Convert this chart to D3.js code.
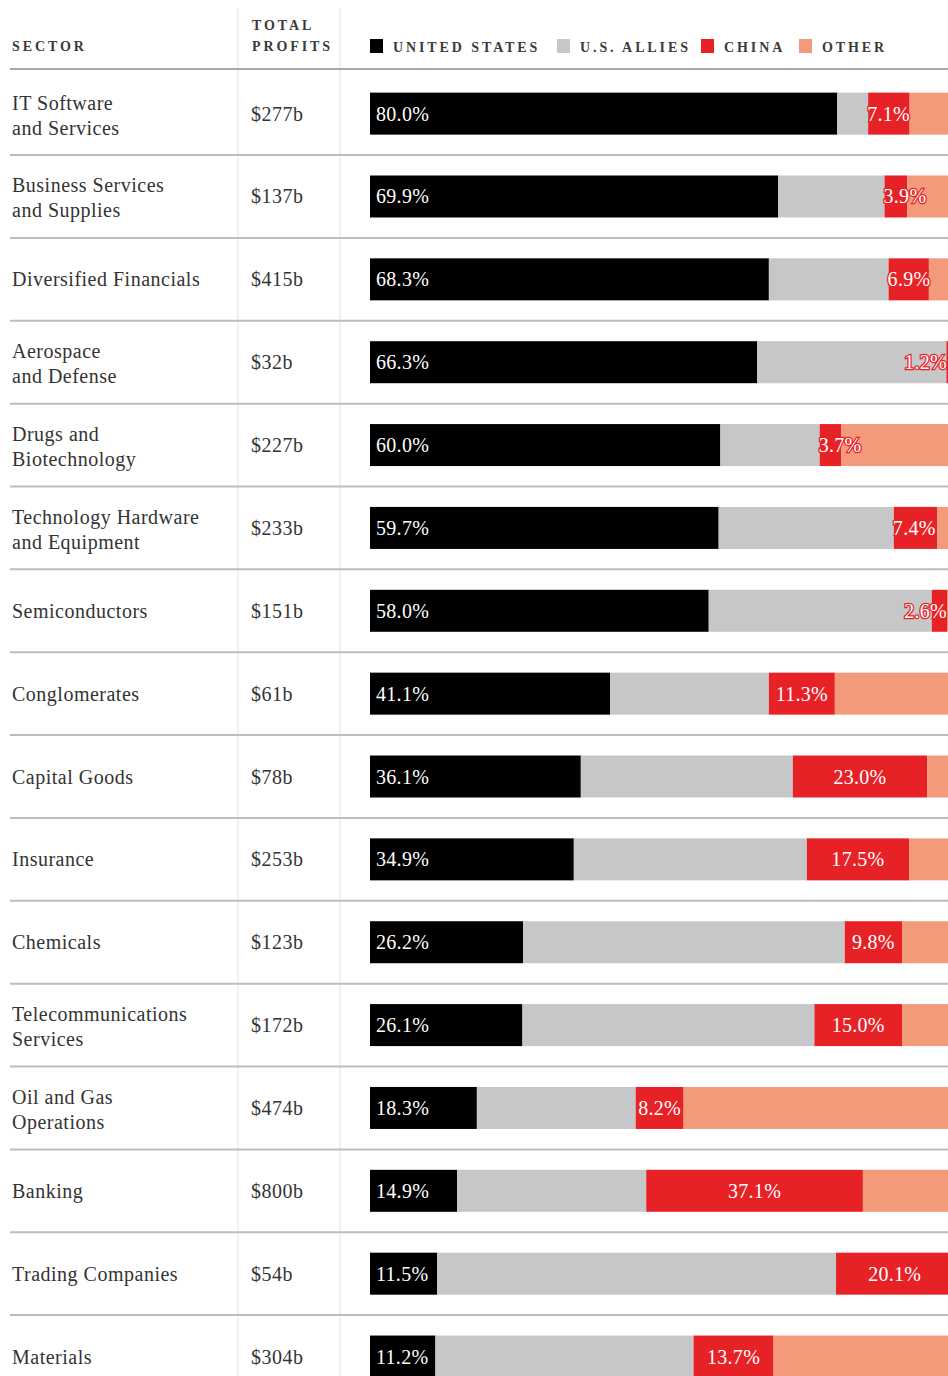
<!DOCTYPE html>
<html lang="en">
<head>
  <meta charset="UTF-8">
  <title>Profits by Sector</title>
  <style>
    body { margin: 0; background: #fff; }
    svg { display: block; font-family: "Liberation Serif", "DejaVu Serif", serif; }
    .head { font-size: 14px; font-weight: bold; letter-spacing: 2.9px; fill: #3a3a3a; }
    .sector, .profit { font-size: 20px; letter-spacing: 0.5px; fill: #333; }
    .us-label { font-size: 20px; letter-spacing: 0.3px; fill: #fff; }
    .cn-label { font-size: 20px; letter-spacing: 0.3px; fill: #fff; stroke: #e62227; stroke-width: 2.5px; paint-order: stroke; }
  </style>
</head>
<body>
  <div id="chart"></div>
  <script src="https://d3js.org/d3.v7.min.js"></script>
  <script>
    // Data (share of profits, %)
    const sectors = [
      "IT Software\nand Services", "Business Services\nand Supplies", "Diversified Financials",
      "Aerospace\nand Defense", "Drugs and\nBiotechnology", "Technology Hardware\nand Equipment",
      "Semiconductors", "Conglomerates", "Capital Goods", "Insurance", "Chemicals",
      "Telecommunications\nServices", "Oil and Gas\nOperations", "Banking",
      "Trading Companies", "Materials"
    ];
    const profits = ["$277b", "$137b", "$415b", "$32b", "$227b", "$233b", "$151b", "$61b",
                     "$78b", "$253b", "$123b", "$172b", "$474b", "$800b", "$54b", "$304b"];
    const us     = [80.0, 69.9, 68.3, 66.3, 60.0, 59.7, 58.0, 41.1, 36.1, 34.9, 26.2, 26.1, 18.3, 14.9, 11.5, 11.2];
    const allies = [5.3, 18.2, 20.5, 32.4, 17.0, 30.0, 38.2, 27.2, 36.3, 39.9, 55.1, 50.0, 27.2, 32.4, 68.3, 44.2];
    const china  = [7.1, 3.9, 6.9, 1.2, 3.7, 7.4, 2.6, 11.3, 23.0, 17.5, 9.8, 15.0, 8.2, 37.1, 20.1, 13.7];
    const other  = [7.6, 8.0, 4.3, 0.1, 19.3, 2.9, 1.2, 20.4, 4.6, 7.7, 8.9, 8.9, 46.3, 15.6, 0.1, 30.9];
    const legendLabels = ["UNITED STATES", "U.S. ALLIES", "CHINA", "OTHER"];

    const keys = ["us", "allies", "china", "other"];
    const colors = d3.scaleOrdinal().domain(keys).range(["#000000", "#c6c7c8", "#e62227", "#f39a7a"]);

    const W = 948, H = 1376;
    const svg = d3.select("#chart").append("svg").attr("width", W).attr("height", H);

    const table = sectors.map((s, i) => ({ sector: s, us: us[i], allies: allies[i], china: china[i], other: other[i] }));
    const stacked = d3.stack().keys(keys)(table);

    const x = d3.scaleLinear().domain([0, 100]).range([370, 954]);
    const y = d3.scaleBand().domain(sectors).range([72.2, 72.2 + 82.86 * sectors.length]);
    const barH = 42;
    const mid = s => y(s) + y.bandwidth() / 2;

    // column dividers
    svg.selectAll(".vline").data([238, 340]).join("line")
      .attr("x1", d => d).attr("x2", d => d).attr("y1", 8).attr("y2", H)
      .attr("stroke", "#e6e6e6").attr("stroke-width", 1.2);

    // header rule and row separators
    svg.append("line").attr("x1", 10).attr("x2", W).attr("y1", 69).attr("y2", 69)
      .attr("stroke", "#a8a8a8").attr("stroke-width", 2);
    svg.selectAll(".sep").data(sectors.slice(1)).join("line")
      .attr("x1", 10).attr("x2", W)
      .attr("y1", d => y(d)).attr("y2", d => y(d))
      .attr("stroke", "#bdbdbd").attr("stroke-width", 2);

    // header texts
    svg.append("text").attr("class", "head").attr("x", 12).attr("y", 51).text("SECTOR");
    svg.append("text").attr("class", "head").attr("x", 252).attr("y", 30).text("TOTAL");
    svg.append("text").attr("class", "head").attr("x", 252).attr("y", 51).text("PROFITS");

    // legend
    const legendX = [370, 557, 701, 799];
    const lg = svg.selectAll(".lg").data(keys).join("g")
      .attr("transform", (d, i) => `translate(${legendX[i]},39)`);
    lg.append("rect").attr("width", 13).attr("height", 14).attr("fill", d => colors(d));
    lg.append("text").attr("class", "head").attr("x", 23).attr("y", 12.5)
      .text((d, i) => legendLabels[i]);

    // sector names
    const st = svg.selectAll(".sector").data(sectors).join("text")
      .attr("class", "sector").attr("x", 12);
    st.each(function (d) {
      const lines = d.split("\n");
      const c = mid(d);
      const t = d3.select(this);
      if (lines.length === 1) {
        t.attr("y", c + 7).text(d);
      } else {
        lines.forEach((l, k) => t.append("tspan").attr("x", 12).attr("y", c - 4 + k * 25).text(l));
      }
    });

    // total profits
    svg.selectAll(".profit").data(sectors).join("text")
      .attr("class", "profit").attr("x", 251)
      .attr("y", d => mid(d) + 7)
      .text((d, i) => profits[i]);

    // stacked bars
    svg.selectAll(".layer").data(stacked).join("g")
      .attr("fill", d => colors(d.key))
      .selectAll("rect").data(d => d).join("rect")
      .attr("x", d => x(d[0]))
      .attr("width", d => x(d[1]) - x(d[0]))
      .attr("y", d => mid(d.data.sector) - barH / 2)
      .attr("height", barH);

    // US labels
    svg.selectAll(".us-label").data(stacked[0]).join("text")
      .attr("class", "us-label")
      .attr("x", d => x(d[0]) + 6)
      .attr("y", d => mid(d.data.sector) + 7)
      .text(d => d.data.us.toFixed(1) + "%");

    // China labels: centred when they fit, else start at the segment and stay in view
    svg.selectAll(".cn-label").data(stacked[2]).join("text")
      .attr("class", "cn-label")
      .attr("y", d => mid(d.data.sector) + 7)
      .text(d => d.data.china.toFixed(1) + "%")
      .each(function (d) {
        const tw = this.getComputedTextLength();
        const x0 = x(d[0]), x1 = x(d[1]);
        let lx;
        if (x1 - x0 >= tw + 2) lx = (x0 + x1) / 2 - tw / 2;
        else lx = Math.min(x0 - 1, W - 1 - tw);
        d3.select(this).attr("x", lx);
      });
  </script>
</body>
</html>
